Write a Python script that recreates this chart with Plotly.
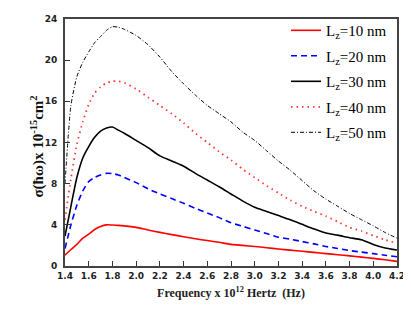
import plotly.graph_objects as go

freq = [1.40, 1.45, 1.50, 1.55, 1.60, 1.65, 1.70, 1.75, 1.80, 1.85, 1.90,
        2.0, 2.1, 2.2, 2.3, 2.4, 2.5, 2.6, 2.7, 2.8, 2.9, 3.0, 3.1, 3.2, 3.3,
        3.4, 3.5, 3.6, 3.7, 3.8, 3.9, 4.0, 4.1, 4.2]

lz10 = [1.05, 1.6, 2.1, 2.7, 3.1, 3.55, 3.85, 4.0, 3.98, 3.95, 3.9,
        3.75, 3.5, 3.27, 3.05, 2.85, 2.65, 2.47, 2.3, 2.1, 2.0, 1.9, 1.78, 1.65, 1.54,
        1.43, 1.32, 1.2, 1.1, 0.98, 0.86, 0.74, 0.6, 0.45]

lz20 = [1.7, 4.0, 5.9, 7.3, 8.2, 8.6, 8.85, 9.0, 8.98, 8.85, 8.6,
        8.1, 7.5, 7.0, 6.55, 6.1, 5.6, 5.15, 4.7, 4.2, 3.85, 3.5, 3.15, 2.8, 2.6,
        2.38, 2.15, 1.9, 1.7, 1.5, 1.35, 1.2, 1.05, 0.9]

lz30 = [2.9, 5.8, 8.6, 10.5, 11.6, 12.5, 13.1, 13.4, 13.5, 13.2, 12.9,
        12.2, 11.5, 10.7, 10.2, 9.7, 9.0, 8.35, 7.7, 7.0, 6.3, 5.7, 5.3, 4.9, 4.5,
        4.05, 3.6, 3.2, 3.0, 2.75, 2.55, 2.1, 1.75, 1.55]

lz40 = [4.5, 8.5, 11.8, 14.0, 15.7, 16.8, 17.4, 17.8, 17.95, 17.95, 17.8,
        17.2, 16.4, 15.6, 14.8, 13.9, 12.9, 12.0, 11.1, 10.3, 9.4, 8.6, 7.8, 7.1, 6.4,
        5.8, 5.3, 4.85, 4.3, 3.75, 3.4, 2.95, 2.55, 2.2]

lz50 = [8.0, 15.6, 18.4, 19.8, 20.8, 21.7, 22.3, 22.9, 23.25, 23.2, 23.0,
        22.4, 21.5, 20.3, 18.9, 17.7, 16.6, 15.6, 14.8, 14.0, 13.0, 12.2, 11.2, 10.2, 9.3,
        8.3, 7.3, 6.5, 5.8, 5.1, 4.5, 3.9, 3.25, 2.7]

names = ["L<sub>z</sub>=10 nm", "L<sub>z</sub>=20 nm", "L<sub>z</sub>=30 nm",
         "L<sub>z</sub>=40 nm", "L<sub>z</sub>=50 nm"]
x_ticks = [1.4, 1.6, 1.8, 2.0, 2.2, 2.4, 2.6, 2.8, 3.0, 3.2, 3.4, 3.6, 3.8, 4.0, 4.2]
y_ticks = [0, 4, 8, 12, 16, 20, 24]

styles = [
    dict(color="#ff0000", width=1.6, dash="solid"),
    dict(color="#0000ff", width=1.6, dash="6px,4px"),
    dict(color="#000000", width=1.6, dash="solid"),
    dict(color="#ff3333", width=1.8, dash="1.5px,4px"),
    dict(color="#000000", width=1.0, dash="4px,2px,1px,2px"),
]

fig = go.Figure()
for name, ys, st in zip(names, [lz10, lz20, lz30, lz40, lz50], styles):
    fig.add_trace(go.Scatter(x=freq, y=ys, mode="lines", name=name,
                             line=dict(color=st["color"], width=st["width"],
                                       dash=st["dash"], shape="spline", smoothing=0.6),
                             legendgroup=name))

# the page body adds an 8px margin, so the figure is sized to fill the rest of the window
fig.update_layout(
    width=403, height=302,
    margin=dict(l=57, r=14, t=6, b=44),
    paper_bgcolor="white", plot_bgcolor="white",
    showlegend=True,
    legend=dict(x=0.985, y=1.02, xanchor="right", yanchor="top",
                bgcolor="rgba(0,0,0,0)", borderwidth=0,
                font=dict(family="Liberation Serif", size=15, color="black"),
                tracegroupgap=3, itemwidth=30),
    xaxis=dict(range=[1.4, 4.2], tickvals=x_ticks,
               ticktext=[f"{v:.1f}" for v in x_ticks],
               ticks="inside", ticklen=5, tickwidth=1.2, tickcolor="#333",
               showline=True, mirror=True, linecolor="#444", linewidth=2,
               showgrid=False, zeroline=False, automargin=False,
               tickfont=dict(family="DejaVu Sans", size=9, color="#222", weight="bold"),
               title=dict(text="Frequency x 10<sup>12</sup> Hertz  (Hz)",
                          font=dict(family="Liberation Serif", size=12, color="#222", weight="bold"),
                          standoff=9)),
    yaxis=dict(range=[0, 24], tickvals=y_ticks,
               ticks="inside", ticklen=5, tickwidth=1.2, tickcolor="#333",
               showline=True, mirror=True, linecolor="#444", linewidth=2,
               showgrid=False, zeroline=False, automargin=False,
               ticklabelstandoff=4,
               tickfont=dict(family="DejaVu Sans", size=9, color="#222", weight="bold")),
    annotations=[dict(text="σ(ħω)x 10<sup>-15</sup>cm<sup>2</sup>",
                      xref="paper", yref="paper", x=-0.084, y=0.484,
                      xanchor="center", yanchor="middle", textangle=-90,
                      showarrow=False,
                      font=dict(family="Liberation Serif", size=15, color="#111", weight="bold"))],
)

fig.write_html("out.html")
